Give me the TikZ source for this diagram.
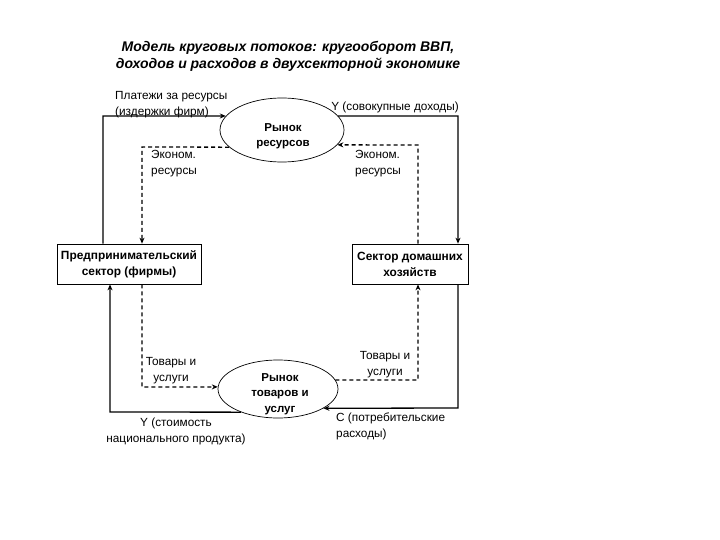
\documentclass[tikz,border=0pt]{standalone}
\usepackage{fontspec}
\setmainfont{Liberation Sans}
\usetikzlibrary{shapes.geometric,arrows.meta}
\begin{document}
\begin{tikzpicture}[x=1pt,y=-1pt,
  lbl/.style={font=\fontsize{11.8}{16}\selectfont, inner sep=0pt},
  ell/.style={ellipse, draw, line width=0.7pt, inner sep=0pt},
  elltext/.style={font=\bfseries\fontsize{11.5}{15.5}\selectfont, align=center, inner sep=0pt},
  box/.style={rectangle, draw, line width=0.7pt, inner sep=0pt, font=\bfseries\fontsize{11.9}{16}\selectfont, align=center},
  flow/.style={line width=1.3pt},
  dflow/.style={line width=1.3pt, dash pattern=on 4pt off 3pt},
  tip/.style={-{Stealth[length=6pt,width=5pt]}}
]
\useasboundingbox (0,0) rectangle (720,540);
\node[font=\bfseries\itshape\fontsize{14}{17}\selectfont, align=center] (title) at (288,56) {Модель круговых потоков: кругооборот ВВП,\\доходов и расходов в двухсекторной экономике};

\node[ell, minimum width=124pt, minimum height=64pt] (res) at (282,130) {};
\node[elltext] (restext) at (283,136) {Рынок\\ресурсов};
\node[ell, minimum width=120pt, minimum height=58pt] (goods) at (278,389) {};
\node[elltext] (goodstext) at (280,394) {Рынок\\товаров и\\услуг};
\node[box, minimum width=144pt, minimum height=40pt] (firm) at (129,264) {Предпринимательский\\сектор (фирмы)};
\node[box, minimum width=116pt, minimum height=40pt] (house) at (410,264) {Сектор домашних\\хозяйств};

\coordinate (a1) at (103,116);
\coordinate (a2) at (458,116);
\coordinate (d1) at (142,147);
\coordinate (d2) at (418,145);
\coordinate (d3) at (142,387);
\coordinate (d4) at (418,380);
\coordinate (b1) at (458,408);
\coordinate (b2) at (110,412);

% solid flows (money)
\draw[flow, tip] (firm.north -| a1) -- (a1) -- (res.166);
\draw[flow, tip] (res.14) -- (a2) -- (house.north -| a2);
\draw[flow, tip] (house.south -| b1) -- (b1) -- (goods.337);
\draw[flow, tip] (goods.212) -- (b2) -- (firm.south -| b2);

% dashed flows (real)
\draw[dflow, tip] (res.198) -- (d1) -- (firm.north -| d1);
\draw[dflow, tip] (house.north -| d2) -- (d2) -- (res.345);
\draw[dflow, tip] (firm.south -| d3) -- (d3) -- (goods.178);
\draw[dflow, tip] (goods.9) -- (d4) -- (house.south -| d4);

% labels
\node[lbl, anchor=west, align=left] (l1) at (115,105) {Платежи за ресурсы\\(издержки фирм)};
\node[lbl] (l2) at (395,107) {Y (совокупные доходы)};
\node[lbl, anchor=west, align=left] (l3) at (151,164) {Эконом.\\ресурсы};
\node[lbl, anchor=west, align=left] (l4) at (355,164) {Эконом.\\ресурсы};
\node[lbl, align=center] (l5) at (171,371) {Товары и\\услуги};
\node[lbl, align=center] (l6) at (385,365) {Товары и\\услуги};
\node[lbl, align=center] (l7) at (176,431) {Y (стоимость\\национального продукта)};
\node[lbl, anchor=west, align=left] (l8) at (336,426) {С (потребительские\\расходы)};
\end{tikzpicture}
\end{document}
